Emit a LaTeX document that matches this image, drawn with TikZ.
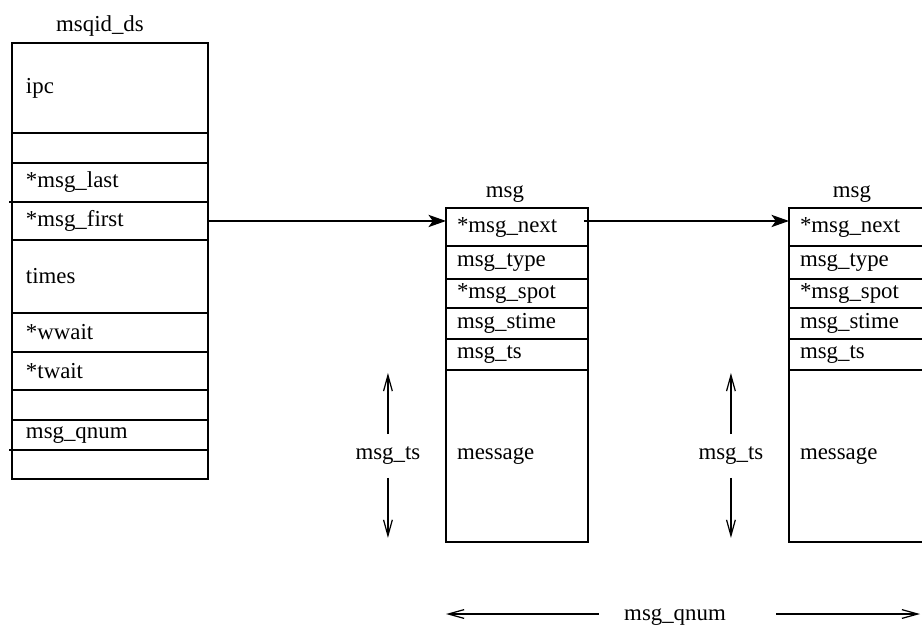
\documentclass[tikz,border=0pt]{standalone}
\usepackage{fontspec}
\setmainfont{Liberation Serif}
\usetikzlibrary{positioning, arrows.meta, calc}

\tikzset{
  dsfield/.style={draw, rectangle, anchor=north west, outer sep=0pt, inner xsep=0.28cm, inner ysep=0pt,
    text width=3.36cm, align=left, minimum width=3.92cm},
  msgfield/.style={draw, rectangle, anchor=north west, outer sep=0pt, inner xsep=0.22cm, inner ysep=0pt,
    text width=2.4cm, align=left, minimum width=2.84cm},
  ptr/.style={-{Stealth[length=10pt,width=7pt,inset=2.5pt]}},
  sizearrow/.style={-{Straight Barb[length=9pt,width=5pt]}, line width=0.7pt},
}

\begin{document}
\begin{tikzpicture}[x=0.02cm, y=-0.02cm, line width=0.8pt, font=\fontsize{13}{15}\selectfont]
\useasboundingbox (0,0) rectangle (922,626);
\clip (0,0) rectangle (922,626);

% msqid_ds
\node[dsfield, minimum height=1.8cm] (ipc) at (12,43) {ipc};
\node[dsfield, minimum height=0.6cm, below=0pt of ipc] (pad1) {};
\node[dsfield, minimum height=0.78cm, below=0pt of pad1] (last) {*msg\_last};
\node[dsfield, minimum height=0.76cm, below=0pt of last] (first) {*msg\_first};
\node[dsfield, minimum height=1.46cm, below=0pt of first] (times) {times};
\node[dsfield, minimum height=0.78cm, below=0pt of times] (wwait) {*wwait};
\node[dsfield, minimum height=0.76cm, below=0pt of wwait] (twait) {*twait};
\node[dsfield, minimum height=0.6cm, below=0pt of twait] (pad2) {};
\node[dsfield, minimum height=0.6cm, below=0pt of pad2] (qnum) {msg\_qnum};
\node[dsfield, minimum height=0.58cm, below=0pt of qnum] (pad3) {};
\node[above=0.12cm of ipc.north, xshift=-0.2cm, inner sep=0pt] (dslbl) {msqid\_ds};
\draw ($(first.north west)+(-3,0)$) -- (first.north west);
\draw ($(pad3.north west)+(-3,0)$) -- (pad3.north west);

% first msg
\node[msgfield, minimum height=0.76cm] (next1) at (446,208) {*msg\_next};
\node[msgfield, minimum height=0.66cm, below=0pt of next1] (type1) {msg\_type};
\node[msgfield, minimum height=0.58cm, below=0pt of type1] (spot1) {*msg\_spot};
\node[msgfield, minimum height=0.62cm, below=0pt of spot1] (stime1) {msg\_stime};
\node[msgfield, minimum height=0.62cm, below=0pt of stime1] (tsf1) {msg\_ts};
\node[msgfield, minimum height=3.44cm, below=0pt of tsf1] (body1) {message};
\node[above=0.1cm of next1.north, xshift=-0.24cm, inner sep=0pt] (msglbl1) {msg};

% second msg
\node[msgfield, minimum height=0.76cm] (next2) at (789,208) {*msg\_next};
\node[msgfield, minimum height=0.66cm, below=0pt of next2] (type2) {msg\_type};
\node[msgfield, minimum height=0.58cm, below=0pt of type2] (spot2) {*msg\_spot};
\node[msgfield, minimum height=0.62cm, below=0pt of spot2] (stime2) {msg\_stime};
\node[msgfield, minimum height=0.62cm, below=0pt of stime2] (tsf2) {msg\_ts};
\node[msgfield, minimum height=3.44cm, below=0pt of tsf2] (body2) {message};
\node[above=0.1cm of next2.north, xshift=-0.16cm, inner sep=0pt] (msglbl2) {msg};

% pointers
\draw[ptr] (first.east) -- (first.east -| next1.west);
\draw[ptr] ($(first.east -| next1.east)+(-4,0)$) -- (first.east -| next2.west);

% sizes
\node[left=0.5cm of body1, inner xsep=0pt, inner ysep=7pt] (tslbl1) {msg\_ts};
\draw[sizearrow] (tslbl1.north) -- ($(tslbl1 |- body1.north)+(0,3)$);
\draw[sizearrow] (tslbl1.south) -- ($(tslbl1 |- body1.south)+(0,-4)$);
\node[left=0.5cm of body2, inner xsep=0pt, inner ysep=7pt] (tslbl2) {msg\_ts};
\draw[sizearrow] (tslbl2.north) -- ($(tslbl2 |- body2.north)+(0,3)$);
\draw[sizearrow] (tslbl2.south) -- ($(tslbl2 |- body2.south)+(0,-4)$);

\node[inner sep=0pt] (qnumlbl) at (675,617) {msg\_qnum};
\coordinate (qnumend) at (920,614);
\draw[sizearrow] ($(qnumlbl.west |- qnumend)+(-25,0)$) -- (qnumend -| body1.west);
\draw[sizearrow] ($(qnumlbl.east |- qnumend)+(50,0)$) -- (qnumend);
\end{tikzpicture}
\end{document}
